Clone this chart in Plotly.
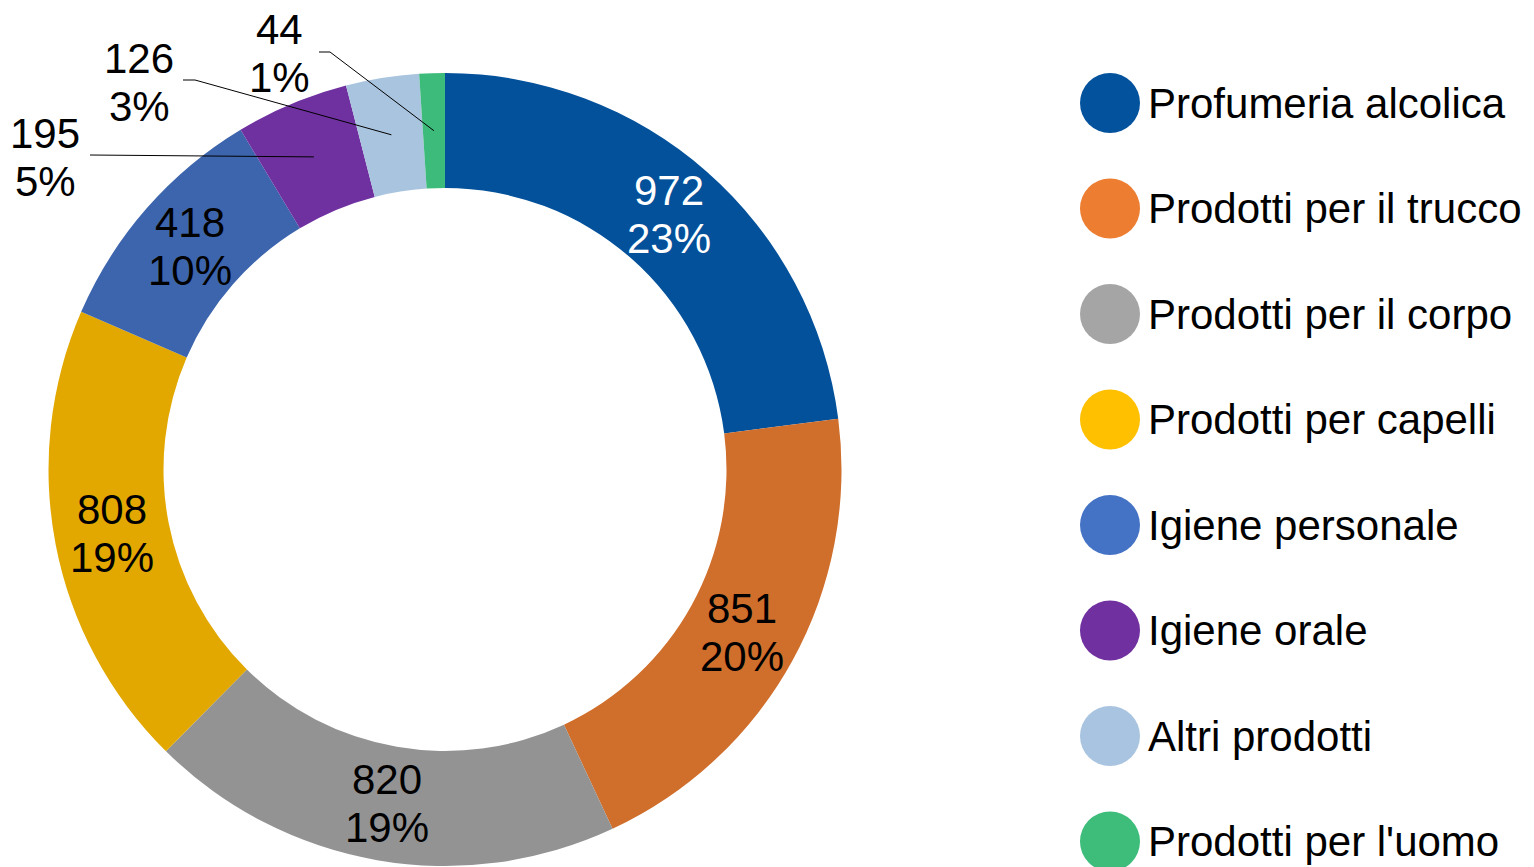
import math
import plotly.graph_objects as go

# Sales by product category
categories = [
    "Profumeria alcolica",
    "Prodotti per il trucco",
    "Prodotti per il corpo",
    "Prodotti per capelli",
    "Igiene personale",
    "Igiene orale",
    "Altri prodotti",
    "Prodotti per l'uomo",
]
values = [972, 851, 820, 808, 418, 195, 126, 44]

slice_colors = ["#03519B", "#D06E2B", "#939393", "#E2A800",
                "#3D65AD", "#6F30A0", "#A9C4DF", "#3DBB7A"]
legend_colors = ["#03529E", "#ED7D31", "#A5A5A5", "#FFC000",
                 "#4472C4", "#7030A0", "#A9C4E0", "#3DBC7A"]
label_colors = ["white", "black", "black", "black", "black", "black", "black", "black"]

W, H = 1534, 867
FONT = "Liberation Sans, Arial, sans-serif"

# donut geometry (pixels)
cx, cy = 445, 469.5
r_out, r_in = 396.5, 281.5
r_mid = (r_out + r_in) / 2

total = sum(values)
pct = [f"{round(v / total * 100)}%" for v in values]

fig = go.Figure()

fig.add_trace(go.Pie(
    labels=categories,
    values=values,
    sort=False,
    direction="clockwise",
    rotation=0,
    hole=r_in / r_out,
    marker=dict(colors=slice_colors, line=dict(width=0)),
    textinfo="none",
    hoverinfo="label+value+percent",
    showlegend=False,
    domain=dict(x=[(cx - r_out) / W, (cx + r_out) / W],
                y=[(H - cy - r_out) / H, (H - cy + r_out) / H]),
))

# overlay axes in pixel units for labels, leader lines and the legend
fig.update_layout(
    xaxis=dict(range=[0, W], domain=[0, 1], visible=False, fixedrange=True),
    yaxis=dict(range=[H, 0], domain=[0, 1], visible=False, fixedrange=True),
)


def slice_point(i, r):
    start = sum(values[:i])
    ang = math.radians((start + values[i] / 2) / total * 360)
    return cx + r * math.sin(ang), cy - r * math.cos(ang)


annotations = []


def add_label(x, y, i, color):
    for txt, dy in ((str(values[i]), -24), (pct[i], 24)):
        annotations.append(dict(
            x=x, y=y + dy, xref="x", yref="y", text=txt, showarrow=False,
            font=dict(family=FONT, size=42, color=color),
            xanchor="center", yanchor="middle",
        ))


# labels inside the larger slices
for i in range(5):
    x, y = slice_point(i, r_mid)
    add_label(x, y, i, label_colors[i])

# labels outside the small slices, with leader lines
outside = {
    5: dict(pos=(45, 157), path=[(90, 155)]),
    6: dict(pos=(139, 82), path=[(183, 80), (195, 80)]),
    7: dict(pos=(279, 53), path=[(319, 52), (330, 52)]),
}
shapes = []
for i, spec in outside.items():
    add_label(spec["pos"][0], spec["pos"][1], i, "black")
    pts = spec["path"] + [slice_point(i, r_mid)]
    d = "M " + " L ".join(f"{px:.1f},{py:.1f}" for px, py in pts)
    shapes.append(dict(type="path", path=d, xref="x", yref="y",
                       line=dict(color="black", width=1), layer="above"))

# legend: large circular swatches with category names
leg_y = [103 + 105.5 * k for k in range(len(categories))]
fig.add_trace(go.Scatter(
    x=[1110] * len(categories), y=leg_y, mode="markers",
    marker=dict(size=60, color=legend_colors, line=dict(width=0)),
    hoverinfo="skip", showlegend=False, cliponaxis=False,
))
for k, name in enumerate(categories):
    annotations.append(dict(
        x=1146, y=leg_y[k], xref="x", yref="y", text=name, showarrow=False,
        font=dict(family=FONT, size=42, color="black"),
        xanchor="left", yanchor="middle",
    ))

fig.update_layout(
    width=W, height=H,
    margin=dict(l=0, r=0, t=0, b=0),
    paper_bgcolor="white", plot_bgcolor="white",
    annotations=annotations, shapes=shapes,
    showlegend=False,
)

fig.write_html("out.html", config={"displayModeBar": False})
